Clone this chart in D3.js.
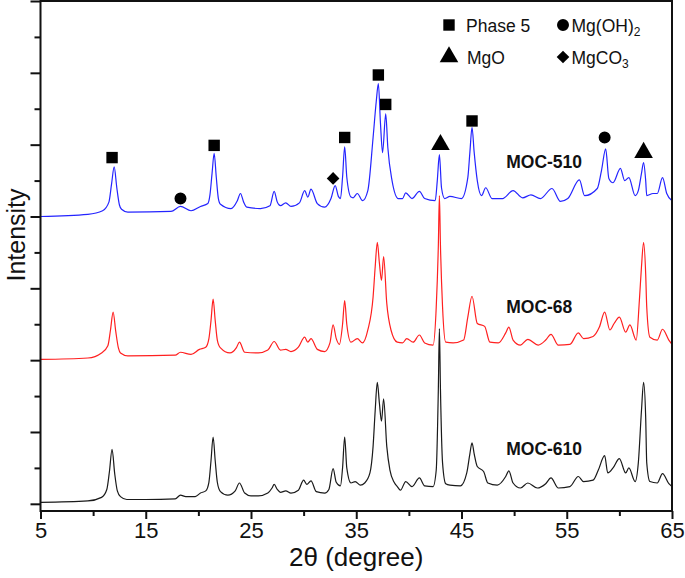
<!DOCTYPE html>
<html>
<head>
<meta charset="utf-8">
<script src="https://cdn.jsdelivr.net/npm/d3@7"></script>
<style>
  body { margin: 0; background: #fff; }
  text { font-family: "Liberation Sans", Arial, sans-serif; }
  .line { fill: none; stroke-width: 1.2; }
</style>
</head>
<body>
<div id="chart"></div>
<script>
// 2θ (degree), relative intensity above each trace's baseline
var moc610 = [[5.0,0.02],[9.5,0.04],[10.8,0.09],[11.3,0.2],[11.55,0.45],[11.8,0.76],[12.05,0.42],[12.3,0.18],[12.6,0.1],[13.2,0.06],[15,0.06],[17.8,0.07],[18.3,0.12],[18.8,0.1],[19.7,0.1],[20.2,0.15],[20.7,0.18],[21.0,0.3],[21.2,0.6],[21.4,0.93],[21.6,0.6],[21.8,0.3],[22.1,0.17],[22.8,0.12],[23.5,0.18],[23.9,0.29],[24.4,0.15],[25.0,0.11],[25.7,0.11],[26.6,0.15],[27.0,0.22],[27.2,0.27],[27.5,0.2],[27.8,0.16],[28.3,0.18],[28.8,0.15],[29.5,0.19],[30.0,0.33],[30.3,0.27],[30.7,0.32],[31.2,0.17],[32.0,0.15],[32.4,0.2],[32.8,0.49],[33.1,0.3],[33.5,0.25],[33.7,0.5],[33.9,0.93],[34.1,0.5],[34.5,0.29],[34.9,0.31],[35.4,0.26],[35.8,0.29],[36.3,0.43],[36.6,0.8],[36.8,1.3],[37.0,1.69],[37.2,1.4],[37.4,1.15],[37.6,1.46],[37.9,0.8],[38.2,0.47],[38.6,0.3],[38.9,0.24],[39.2,0.19],[39.7,0.31],[40.3,0.24],[41.0,0.36],[41.5,0.25],[42.3,0.24],[42.6,0.47],[42.8,1.6],[42.9,2.44],[43.0,1.6],[43.2,0.57],[43.5,0.28],[43.9,0.26],[44.9,0.25],[45.5,0.43],[45.8,0.7],[46.0,0.85],[46.2,0.7],[46.5,0.52],[47.1,0.45],[47.5,0.29],[48.4,0.26],[49.2,0.38],[49.5,0.46],[49.9,0.29],[50.6,0.22],[51.3,0.29],[52.2,0.22],[53.0,0.28],[53.5,0.36],[54.2,0.22],[55.3,0.24],[56.1,0.38],[56.6,0.31],[57.5,0.33],[58.0,0.47],[58.6,0.67],[58.9,0.43],[59.4,0.5],[60.0,0.63],[60.6,0.43],[60.9,0.5],[61.5,0.31],[61.8,0.57],[62.1,1.3],[62.3,1.69],[62.5,1.2],[62.6,0.57],[62.9,0.31],[63.6,0.29],[64.1,0.42],[64.7,0.28],[65.0,0.24]];

var moc68 = [[5.0,0.01],[9.5,0.03],[10.8,0.1],[11.4,0.2],[11.65,0.42],[11.9,0.67],[12.15,0.4],[12.4,0.17],[12.6,0.1],[13.3,0.06],[17.8,0.07],[18.3,0.11],[19.3,0.08],[20.1,0.15],[20.7,0.18],[21.0,0.3],[21.2,0.55],[21.4,0.85],[21.6,0.55],[21.8,0.28],[22.1,0.17],[23.0,0.1],[23.6,0.17],[23.9,0.25],[24.4,0.11],[25.7,0.1],[26.6,0.14],[27.2,0.26],[27.8,0.14],[28.3,0.15],[28.8,0.12],[29.5,0.18],[30.1,0.32],[30.4,0.25],[30.7,0.3],[31.3,0.15],[32.0,0.12],[32.5,0.24],[32.8,0.49],[33.1,0.3],[33.4,0.22],[33.7,0.5],[33.9,0.83],[34.1,0.5],[34.5,0.25],[35.1,0.3],[35.6,0.24],[36.1,0.42],[36.6,0.88],[36.8,1.3],[37.0,1.64],[37.2,1.35],[37.4,1.11],[37.6,1.44],[37.9,0.79],[38.3,0.42],[38.9,0.25],[39.4,0.24],[39.8,0.3],[40.4,0.25],[41.0,0.35],[41.5,0.24],[42.3,0.21],[42.6,0.74],[42.8,1.6],[42.9,2.29],[43.0,1.6],[43.2,0.74],[43.5,0.25],[44.2,0.24],[45.2,0.28],[45.6,0.6],[46.0,0.89],[46.5,0.51],[47.2,0.47],[47.7,0.25],[48.5,0.24],[49.2,0.38],[49.5,0.46],[49.9,0.28],[50.6,0.21],[51.3,0.29],[52.3,0.21],[53.0,0.28],[53.5,0.36],[54.2,0.21],[55.3,0.22],[56.1,0.38],[56.6,0.3],[57.5,0.33],[58.1,0.46],[58.6,0.67],[59.1,0.42],[59.5,0.51],[60.0,0.6],[60.6,0.39],[61.0,0.49],[61.6,0.28],[61.9,0.83],[62.1,1.3],[62.3,1.64],[62.5,1.2],[62.6,0.74],[62.9,0.32],[63.6,0.28],[64.1,0.43],[64.7,0.28],[65.0,0.22]];

var moc510 = [[5.0,0.0],[9.5,0.03],[10.9,0.08],[11.5,0.2],[11.75,0.45],[12.0,0.69],[12.25,0.4],[12.5,0.16],[12.7,0.1],[13.3,0.06],[17.4,0.07],[18.3,0.14],[19.3,0.08],[20.2,0.14],[20.9,0.18],[21.1,0.3],[21.3,0.6],[21.5,0.88],[21.7,0.55],[21.9,0.25],[22.1,0.17],[23.1,0.11],[23.7,0.22],[24.0,0.32],[24.3,0.2],[24.6,0.13],[25.9,0.11],[26.8,0.15],[27.2,0.35],[27.5,0.2],[27.8,0.15],[28.3,0.19],[28.8,0.14],[29.6,0.19],[30.1,0.36],[30.4,0.27],[30.7,0.38],[31.3,0.18],[32.0,0.13],[32.6,0.25],[33.0,0.43],[33.3,0.28],[33.5,0.25],[33.7,0.55],[33.9,0.97],[34.1,0.55],[34.5,0.27],[34.7,0.26],[35.1,0.32],[35.6,0.22],[36.1,0.36],[36.6,1.1],[36.9,1.6],[37.1,1.85],[37.3,1.3],[37.5,0.89],[37.8,1.43],[38.0,0.96],[38.4,0.5],[39.0,0.25],[39.4,0.25],[39.7,0.33],[40.3,0.25],[41.0,0.35],[41.5,0.25],[42.5,0.22],[42.7,0.5],[42.9,0.86],[43.1,0.4],[43.4,0.25],[43.9,0.28],[45.0,0.25],[45.6,0.54],[45.8,0.9],[46.0,1.24],[46.2,0.9],[46.5,0.5],[46.9,0.29],[47.3,0.4],[47.9,0.25],[48.9,0.25],[49.9,0.36],[50.8,0.26],[51.6,0.3],[52.5,0.25],[53.6,0.39],[54.4,0.21],[55.1,0.25],[56.2,0.51],[56.7,0.29],[57.9,0.39],[58.3,0.64],[58.7,0.94],[59.0,0.53],[59.4,0.47],[60.1,0.67],[60.5,0.5],[60.9,0.54],[61.5,0.29],[61.8,0.36],[62.1,0.6],[62.3,0.75],[62.5,0.5],[62.6,0.29],[63.2,0.32],[63.6,0.32],[64.1,0.54],[64.5,0.32],[65.0,0.22]];

var seriesNames = ["MOC-510", "MOC-68", "MOC-610"];
var seriesOffsets = [4, 2, 0];

// phase markers, [2θ, intensity]
var phase5 = [[11.8,4.82],[21.5,4.99],[33.9,5.1],[37.1,5.97],[37.8,5.56],[46.0,5.33]];
var mgOH2 = [[18.3,4.25],[58.6,5.1]];
var mgO = [[43.0,5.0],[62.3,4.89]];
var mgCO3 = [[32.8,4.53]];

var xTicks = [5, 15, 25, 35, 45, 55, 65];
var xMinor = [10, 20, 30, 40, 50, 60];
var yTicks = [0, 1, 2, 3, 4, 5, 6, 7];
var yMinor = [0.5, 1.5, 2.5, 3.5, 4.5, 5.5, 6.5];

var margin = { top: 1, right: 13, bottom: 67, left: 40.5 },
  width = 685 - margin.left - margin.right,
  height = 578 - margin.top - margin.bottom;

var svg = d3.select("#chart").append("svg")
  .attr("width", 685)
  .attr("height", 578)
  .append("g")
  .attr("transform", "translate(" + margin.left + "," + margin.top + ")");

var x = d3.scaleLinear().domain([5, 65]).range([0, width]);
var y = d3.scaleLinear().domain([-0.1, 7]).range([height, 0]);

var line = d3.line()
  .x(function (d) { return x(d[0]); })
  .y(function (d) { return y(d[1]); })
  .curve(d3.curveMonotoneX);

var colors = ["#2424ff", "#ff2020", "#1a1a1a"];
[moc510, moc68, moc610].forEach(function (s, i) {
  svg.append("path")
    .datum(s.map(function (d) { return [d[0], d[1] + seriesOffsets[i]]; }))
    .attr("class", "line")
    .attr("d", line)
    .style("stroke", colors[i]);
});

// series labels
var labelPos = [[49.25, 4.67], [49.25, 2.66], [49.25, 0.68]];
seriesNames.forEach(function (n, i) {
  svg.append("text")
    .attr("x", x(labelPos[i][0]))
    .attr("y", y(labelPos[i][1]))
    .style("font-size", "17.5px")
    .style("font-weight", "bold")
    .style("fill", "#111")
    .text(n);
});

// frame and axes
svg.append("rect")
  .attr("width", width).attr("height", height)
  .style("fill", "none").style("stroke", "#111").style("stroke-width", 2);

var xAxis = svg.append("g")
  .attr("transform", "translate(0," + height + ")")
  .call(d3.axisBottom(x).tickValues(xTicks).tickSize(8).tickPadding(3));
svg.append("g")
  .attr("transform", "translate(0," + height + ")")
  .call(d3.axisBottom(x).tickValues(xMinor).tickSize(5).tickFormat(""));
svg.append("g")
  .call(d3.axisLeft(y).tickValues(yTicks).tickSize(10).tickFormat(""));
svg.append("g")
  .call(d3.axisLeft(y).tickValues(yMinor).tickSize(6).tickFormat(""));

svg.selectAll(".domain").remove();
svg.selectAll(".tick line").style("stroke", "#111").style("stroke-width", 2);
xAxis.selectAll("text")
  .style("font-size", "22px")
  .style("fill", "#111");

svg.append("text")
  .attr("x", width / 2)
  .attr("y", height + 55)
  .attr("text-anchor", "middle")
  .style("font-size", "26px")
  .style("fill", "#111")
  .text("2θ (degree)");

svg.append("text")
  .attr("transform", "rotate(-90)")
  .attr("x", -234)
  .attr("y", -16)
  .attr("text-anchor", "middle")
  .style("font-size", "25px")
  .style("fill", "#111")
  .text("Intensity");

// phase markers
var sq = d3.symbol().type(d3.symbolSquare).size(130);
var ci = d3.symbol().type(d3.symbolCircle).size(113);
var tr = d3.symbol().type(d3.symbolTriangle).size(150);
var di = d3.symbol().type(d3.symbolSquare).size(80);
function markTransform(px, py, sym) {
  return "translate(" + px + "," + py + ")" + (sym === di ? " rotate(45)" : "");
}
function drawMarks(data, sym) {
  svg.selectAll(null)
    .data(data)
    .enter().append("path")
    .attr("d", sym)
    .attr("transform", function (d) { return markTransform(x(d[0]), y(d[1]), sym); })
    .style("fill", "#000");
}
drawMarks(phase5, sq);
drawMarks(mgOH2, ci);
drawMarks(mgO, tr);
drawMarks(mgCO3, di);

// legend
var legend = [
  { sym: sq, x: 408.5, y: 24, dx: 17, label: "Phase 5" },
  { sym: ci, x: 522.5, y: 24, dx: 8.5, label: "Mg(OH)", sub: "2" },
  { sym: tr, x: 408.5, y: 56, dx: 18, label: "MgO" },
  { sym: di, x: 522.5, y: 56, dx: 8.5, label: "MgCO", sub: "3" }
];
legend.forEach(function (l) {
  svg.append("path")
    .attr("d", l.sym)
    .attr("transform", markTransform(l.x, l.y, l.sym))
    .style("fill", "#000");
  var t = svg.append("text")
    .attr("x", l.x + l.dx)
    .attr("y", l.y + 7)
    .style("font-size", "17.5px")
    .style("fill", "#111")
    .text(l.label);
  if (l.sub) {
    t.append("tspan").attr("dy", 4).style("font-size", "12px").text(l.sub);
  }
});
</script>
</body>
</html>
